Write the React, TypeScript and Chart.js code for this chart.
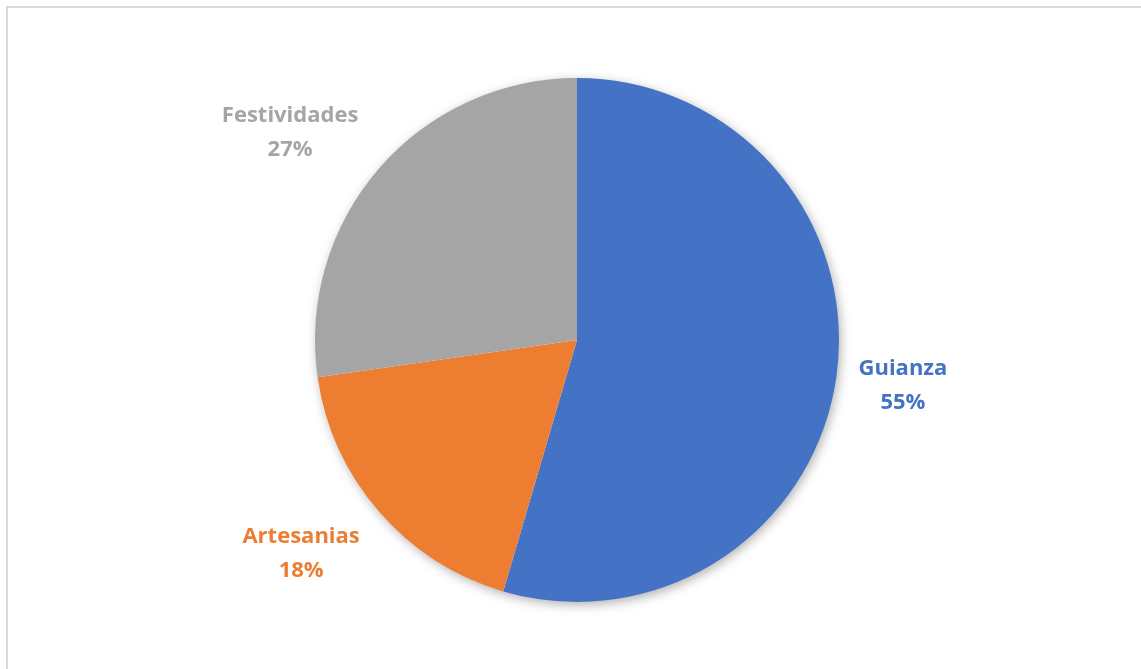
import React, { useEffect, useRef } from "react";
import { Chart, registerables } from "chart.js";

Chart.register(...registerables);

const categories = ["Guianza", "Artesanias", "Festividades"];
const values = [6, 2, 3];
const sliceColors = ["#4472C4", "#ED7D31", "#A5A5A5"];

// label centre offsets relative to pie centre, in units of the radius
const labelOffsets = [
  [1.244, 0.176],
  [-1.053, 0.815],
  [-1.095, -0.792],
];

const shadowPlugin = {
  id: "pieShadow",
  beforeDatasetsDraw(chart: any) {
    const meta = chart.getDatasetMeta(0);
    if (!meta || !meta.data.length) return;
    const arc = meta.data[0];
    const ctx = chart.ctx;
    ctx.save();
    ctx.shadowColor = "rgba(0,0,0,0.35)";
    ctx.shadowBlur = 12;
    ctx.shadowOffsetX = 2;
    ctx.shadowOffsetY = 3;
    ctx.fillStyle = "#ffffff";
    ctx.beginPath();
    ctx.arc(arc.x, arc.y, arc.outerRadius - 1, 0, Math.PI * 2);
    ctx.fill();
    ctx.restore();
  },
};

const labelPlugin = {
  id: "pieLabels",
  afterDatasetsDraw(chart: any) {
    const meta = chart.getDatasetMeta(0);
    const ctx = chart.ctx;
    const data = chart.data.datasets[0].data as number[];
    const total = data.reduce((a, b) => a + b, 0);
    ctx.save();
    ctx.font = "bold 22px 'Open Sans'";
    ctx.textAlign = "center";
    ctx.textBaseline = "middle";
    meta.data.forEach((arc: any, i: number) => {
      const r = arc.outerRadius;
      const x = arc.x + labelOffsets[i][0] * r;
      const y = arc.y + labelOffsets[i][1] * r;
      ctx.fillStyle = sliceColors[i];
      ctx.fillText(chart.data.labels[i], x, y - 17);
      ctx.fillText(Math.round((data[i] / total) * 100) + "%", x, y + 17);
    });
    ctx.restore();
  },
};

export default function App() {
  const canvasRef = useRef<HTMLCanvasElement | null>(null);

  useEffect(() => {
    if (!canvasRef.current) return;
    const chart = new Chart(canvasRef.current, {
      type: "pie",
      data: {
        labels: categories,
        datasets: [
          {
            data: values,
            backgroundColor: sliceColors,
            borderWidth: 0,
          },
        ],
      },
      options: {
        animation: false,
        responsive: true,
        maintainAspectRatio: false,
        layout: { padding: { left: 315, right: 302, top: 78, bottom: 67 } },
        plugins: {
          legend: { display: false },
          tooltip: { enabled: false },
        },
      },
      plugins: [shadowPlugin, labelPlugin],
    });
    return () => chart.destroy();
  }, []);

  return (
    <div
      style={{
        position: "fixed",
        left: 0,
        top: 0,
        width: 1141,
        height: 669,
        background: "#ffffff",
        overflow: "hidden",
      }}
    >
      <div
        style={{
          position: "absolute",
          left: 6,
          top: 6,
          width: 1200,
          height: 700,
          border: "2px solid #d9d9d9",
          boxSizing: "border-box",
        }}
      />
      <div style={{ position: "absolute", left: 0, top: 0, width: 1141, height: 669 }}>
        <canvas ref={canvasRef} />
      </div>
    </div>
  );
}
